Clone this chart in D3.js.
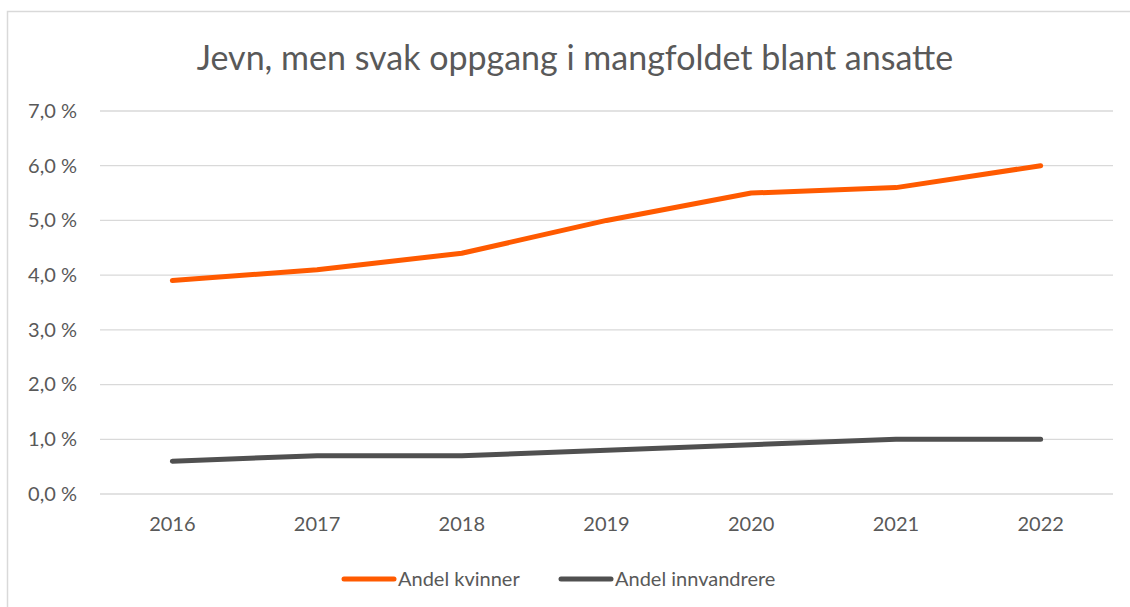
<!DOCTYPE html>
<html>
<head>
<meta charset="utf-8">
<script src="https://cdn.jsdelivr.net/npm/d3@7"></script>
<style>
  body { margin: 0; background: #fff; }
  text { font-family: Lato, "Open Sans", sans-serif; fill: #595959; }
</style>
</head>
<body>
<div id="chart"></div>
<script>
// data
var years = ["2016", "2017", "2018", "2019", "2020", "2021", "2022"];
var kvinner = [3.9, 4.1, 4.4, 5.0, 5.5, 5.6, 6.0];
var innvandrere = [0.6, 0.7, 0.7, 0.8, 0.9, 1.0, 1.0];
var yTicks = [0, 1, 2, 3, 4, 5, 6, 7];
var seriesNames = ["Andel kvinner", "Andel innvandrere"];
var seriesColors = ["#ff5a00", "#505050"];

var W = 1130, H = 607;
var margin = {top: 111, right: 17, bottom: 113, left: 100},
  width = W - margin.left - margin.right,
  height = H - margin.top - margin.bottom;

var root = d3.select("#chart").append("svg")
  .attr("width", W)
  .attr("height", H);

// outer frame
root.append("rect")
  .attr("x", 7.5).attr("y", 11.5)
  .attr("width", W + 10).attr("height", H + 10)
  .attr("fill", "none")
  .attr("stroke", "#d9d9d9")
  .attr("stroke-width", 1.5);

root.append("text")
  .attr("x", 575).attr("y", 70)
  .attr("text-anchor", "middle")
  .style("font-size", "34px")
  .text("Jevn, men svak oppgang i mangfoldet blant ansatte");

var svg = root.append("g")
  .attr("transform", "translate(" + margin.left + "," + margin.top + ")");

var x = d3.scaleBand().domain(years).range([0, width]);
var y = d3.scaleLinear().domain([0, 7]).range([height, 0]);

// gridlines
svg.selectAll(".grid")
  .data(yTicks)
  .enter().append("line")
  .attr("x1", 0).attr("x2", width)
  .attr("y1", function(d) { return y(d); })
  .attr("y2", function(d) { return y(d); })
  .attr("stroke", "#d9d9d9")
  .attr("stroke-width", 1.3);

// y axis labels
var yAxis = svg.append("g")
  .call(d3.axisLeft(y).tickValues(yTicks).tickSize(0).tickPadding(23)
    .tickFormat(function(d) { return d3.format(".1f")(d).replace(".", ",") + " %"; }));
yAxis.select(".domain").remove();
yAxis.selectAll("text").style("font-size", "20px").attr("fill", "#595959");

// x axis labels
var xAxis = svg.append("g")
  .attr("transform", "translate(0," + height + ")")
  .call(d3.axisBottom(x).tickSize(0).tickPadding(23));
xAxis.select(".domain").remove();
xAxis.selectAll("text").style("font-size", "20px").attr("fill", "#595959");

var line = d3.line()
  .x(function(d, i) { return x(years[i]) + x.bandwidth() / 2; })
  .y(function(d) { return y(d); });

[kvinner, innvandrere].forEach(function(s, k) {
  svg.append("path")
    .datum(s)
    .attr("d", line)
    .attr("fill", "none")
    .attr("stroke", seriesColors[k])
    .attr("stroke-width", 5)
    .attr("stroke-linecap", "round")
    .attr("stroke-linejoin", "round");
});

// legend
var legendX = [342, 559];
var legend = root.selectAll(".legend")
  .data(seriesNames)
  .enter().append("g")
  .attr("transform", function(d, i) { return "translate(" + legendX[i] + ",579)"; });
legend.append("line")
  .attr("x1", 2).attr("x2", 52)
  .attr("stroke", function(d, i) { return seriesColors[i]; })
  .attr("stroke-width", 5)
  .attr("stroke-linecap", "round");
legend.append("text")
  .attr("x", 56).attr("dy", "0.35em")
  .style("font-size", "20px")
  .text(function(d) { return d; });
</script>
</body>
</html>
